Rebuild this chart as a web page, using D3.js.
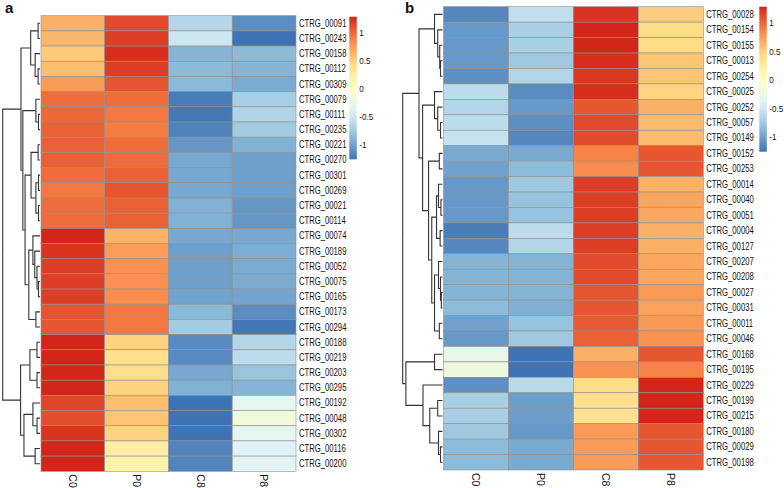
<!DOCTYPE html>
<html>
<head>
<meta charset="utf-8">
<title>Heatmaps</title>
<script src="https://d3js.org/d3.v7.min.js"></script>
<style>
  body { margin: 0; background: #fff; }
  text { font-family: "Liberation Sans", Arial, sans-serif; fill: #111; }
</style>
</head>
<body>
<div id="chart"></div>
<script>
// columns (same for both panels)
const samples = ["C0", "P0", "C8", "P8"];

// panel a
const genesA = ["CTRG_00091","CTRG_00243","CTRG_00158","CTRG_00112","CTRG_00309",
  "CTRG_00079","CTRG_00111","CTRG_00235","CTRG_00221","CTRG_00270","CTRG_00301",
  "CTRG_00269","CTRG_00021","CTRG_00114","CTRG_00074","CTRG_00189","CTRG_00052",
  "CTRG_00075","CTRG_00165","CTRG_00173","CTRG_00294","CTRG_00188","CTRG_00219",
  "CTRG_00203","CTRG_00295","CTRG_00192","CTRG_00048","CTRG_00302","CTRG_00116","CTRG_00200"];
const valuesA = [
  [0.65, 1.12, -0.65, -1.12], [0.62, 1.17, -0.52, -1.27], [0.52, 1.24, -0.90, -0.86],
  [0.58, 1.18, -0.86, -0.90], [0.75, 1.07, -0.87, -0.95], [0.97, 0.97, -1.22, -0.72],
  [0.99, 0.92, -1.24, -0.67], [1.02, 0.90, -1.18, -0.74], [1.02, 0.97, -1.07, -0.92],
  [1.02, 0.97, -0.97, -1.02], [0.97, 1.02, -0.97, -1.02], [0.92, 1.07, -0.97, -1.02],
  [0.97, 1.02, -0.92, -1.07], [0.97, 1.02, -0.92, -1.07], [1.30, 0.64, -0.97, -0.97],
  [1.22, 0.74, -1.02, -0.94], [1.17, 0.80, -1.02, -0.95], [1.17, 0.80, -1.02, -0.95],
  [1.17, 0.82, -1.00, -0.99], [1.07, 0.92, -0.87, -1.12], [1.07, 0.92, -0.74, -1.25],
  [1.32, 0.48, -1.14, -0.66], [1.37, 0.38, -1.14, -0.61], [1.37, 0.40, -0.97, -0.80],
  [1.34, 0.48, -0.92, -0.90], [1.14, 0.58, -1.37, -0.35], [1.10, 0.55, -1.44, -0.21],
  [1.22, 0.48, -1.35, -0.35], [1.37, 0.22, -1.17, -0.42], [1.40, 0.16, -1.17, -0.39]
];
// dendrogram a: [height, left, right], leaves are row indices
const treeA = [1,
  [0.51,
    [0.25, [0.05, 0, 1], [0.13, 2, [0.05, 3, 4]]],
    [0.46,
      [0.11, 5, [0.04, 6, 7]],
      [0.40,
        [0.24, [0.05, 8, 9], [0.11, [0.04, 10, 11], [0.04, 12, 13]]],
        [0.30, [0.19, 14, [0.14, 15, [0.08, 16, [0.04, 17, 18]]]], [0.11, 19, 20]]]]],
  [0.52,
    [0.27, [0.08, 21, 22], [0.08, 23, 24]],
    [0.43, [0.19, 25, [0.08, 26, 27]], [0.13, 28, 29]]]];

// panel b
const genesB = ["CTRG_00028","CTRG_00154","CTRG_00155","CTRG_00013","CTRG_00254",
  "CTRG_00025","CTRG_00252","CTRG_00057","CTRG_00149","CTRG_00152","CTRG_00253",
  "CTRG_00014","CTRG_00040","CTRG_00051","CTRG_00004","CTRG_00127","CTRG_00207",
  "CTRG_00208","CTRG_00027","CTRG_00031","CTRG_00011","CTRG_00046","CTRG_00168",
  "CTRG_00195","CTRG_00229","CTRG_00199","CTRG_00215","CTRG_00180","CTRG_00029","CTRG_00198"];
const valuesB = [
  [-1.15, -0.58, 1.22, 0.51], [-1.05, -0.70, 1.32, 0.43], [-1.05, -0.70, 1.32, 0.43],
  [-1.05, -0.75, 1.25, 0.55], [-1.10, -0.65, 1.20, 0.55], [-0.60, -1.12, 1.25, 0.47],
  [-0.65, -1.05, 1.07, 0.65], [-0.60, -1.10, 1.12, 0.60], [-0.55, -1.15, 1.12, 0.60],
  [-0.95, -0.95, 0.87, 1.07], [-1.00, -0.85, 0.82, 1.07], [-1.05, -0.75, 1.17, 0.65],
  [-1.05, -0.80, 1.17, 0.70], [-1.05, -0.80, 1.17, 0.70], [-1.20, -0.60, 1.17, 0.65],
  [-1.15, -0.65, 1.17, 0.65], [-0.90, -0.90, 1.12, 0.70], [-0.90, -0.90, 1.12, 0.70],
  [-0.90, -0.90, 1.07, 0.75], [-0.85, -0.92, 1.07, 0.72], [-1.00, -0.80, 1.05, 0.77],
  [-1.05, -0.75, 1.02, 0.80], [-0.30, -1.40, 0.65, 1.07], [-0.22, -1.45, 0.80, 0.87],
  [-1.10, -0.62, 0.42, 1.32], [-0.70, -1.02, 0.40, 1.34], [-0.70, -1.02, 0.38, 1.36],
  [-0.75, -1.05, 0.75, 1.07], [-0.85, -0.95, 0.75, 1.07], [-0.85, -0.95, 0.75, 1.07]
];
const treeB = [1,
  [0.59,
    [0.20, 0, [0.12, 1, [0.07, 2, [0.05, 3, 4]]]],
    [0.50,
      [0.20, 5, [0.12, 6, [0.05, 7, 8]]],
      [0.35,
        [0.08, 9, 10],
        [0.27,
          [0.15, [0.10, 11, [0.04, 12, 13]], [0.06, 14, 15]],
          [0.20, [0.10, 16, [0.05, 17, [0.03, 18, 19]]], [0.08, 20, 21]]]]]],
  [0.92,
    [0.20, 22, 23],
    [0.49, 24, [0.32, [0.12, 25, 26], [0.10, 27, [0.05, 28, 29]]]]]];

// legend ticks
const legendTicks = [1, 0.5, 0, -0.5, -1];
// rev(RdYlBu, 7), pushed a little towards the saturated print colours
const palette = ["#4073B3", "#8FBEDB", "#E0F3F8", "#FFFFBF", "#FEDC88", "#F98648", "#D3261A"];

const W = 784, H = 488;
const svg = d3.select("#chart").append("svg")
  .attr("width", W).attr("height", H);

function drawPanel(cfg) {
  const g = svg.append("g");

  const color = d3.scaleLinear()
    .domain(d3.range(7).map(i => cfg.vmin + i * (cfg.vmax - cfg.vmin) / 6))
    .range(palette)
    .interpolate(d3.interpolateRgb)
    .clamp(true);

  const x = d3.scaleBand().domain(samples).range([cfg.x0, cfg.x1]);
  const y = d3.scaleBand().domain(d3.range(cfg.genes.length)).range([cfg.y0, cfg.y1]);

  // cells
  const cells = [];
  cfg.values.forEach((row, i) => row.forEach((v, j) => cells.push({i, j, v})));
  g.selectAll("rect.cell").data(cells).enter().append("rect")
    .attr("class", "cell")
    .attr("x", d => x(samples[d.j]))
    .attr("y", d => y(d.i))
    .attr("width", x.bandwidth())
    .attr("height", y.bandwidth())
    .attr("fill", d => color(d.v))
    .attr("stroke", "#8f8f8f")
    .attr("stroke-width", 0.6);

  // row labels, squeezed horizontally like the narrow print font
  g.selectAll("text.row").data(cfg.genes).enter().append("text")
    .attr("class", "row")
    .attr("transform", (d, i) => `translate(${cfg.x1 + 3},${y(i) + y.bandwidth() / 2}) scale(0.77,1)`)
    .attr("dy", "0.35em")
    .attr("font-size", "10px")
    .text(d => d);

  // column labels (rotated, reading downward)
  g.selectAll("text.col").data(samples).enter().append("text")
    .attr("class", "col")
    .attr("transform", d => `translate(${x(d) + x.bandwidth() / 2},${cfg.y1 + 3}) rotate(90)`)
    .attr("dy", "0.35em")
    .attr("font-size", "10.5px")
    .text(d => d);

  // dendrogram
  const root = d3.hierarchy(cfg.tree, d => Array.isArray(d) ? d.slice(1) : null);
  const hx = d3.scaleLinear().domain([0, 1]).range([cfg.x0 - 1, cfg.dx]);
  root.eachAfter(n => {
    if (n.children) {
      n.px = hx(n.data[0]);
      n.py = (n.children[0].py + n.children[n.children.length - 1].py) / 2;
    } else {
      n.px = hx(0);
      n.py = y(n.data) + y.bandwidth() / 2;
    }
  });
  g.selectAll("path.link").data(root.links()).enter().append("path")
    .attr("class", "link")
    .attr("fill", "none")
    .attr("stroke", "#333")
    .attr("stroke-width", 1.1)
    .attr("d", l => `M${l.source.px},${l.source.py}V${l.target.py}H${l.target.px}`);

  // colour legend
  const ly = d3.scaleLinear().domain([cfg.vmin, cfg.vmax]).range([cfg.ly1, cfg.ly0]);
  const gradId = "grad" + cfg.name;
  const grad = svg.append("defs").append("linearGradient")
    .attr("id", gradId).attr("x1", 0).attr("y1", 1).attr("x2", 0).attr("y2", 0);
  grad.selectAll("stop").data(d3.range(0, 1.0001, 0.05)).enter().append("stop")
    .attr("offset", t => t)
    .attr("stop-color", t => color(cfg.vmin + t * (cfg.vmax - cfg.vmin)));
  g.append("rect")
    .attr("x", cfg.lx).attr("y", cfg.ly0)
    .attr("width", 7.5).attr("height", cfg.ly1 - cfg.ly0)
    .attr("fill", `url(#${gradId})`);
  g.selectAll("text.tick").data(legendTicks).enter().append("text")
    .attr("class", "tick")
    .attr("transform", d => `translate(${cfg.lx + 10},${ly(d)}) scale(0.85,1)`)
    .attr("dy", "0.35em")
    .attr("font-size", "9.5px")
    .text(d => d);

  // panel letter
  g.append("text")
    .attr("x", cfg.letterX).attr("y", 13)
    .attr("font-size", "15px").attr("font-weight", "bold")
    .text(cfg.name);
}

drawPanel({
  name: "a", genes: genesA, values: valuesA, tree: treeA,
  x0: 41, x1: 296, y0: 15.7, y1: 471.3, dx: 2.7,
  vmin: -1.27, vmax: 1.28, lx: 349.3, ly0: 16.7, ly1: 159.3, letterX: 5
});
drawPanel({
  name: "b", genes: genesB, values: valuesB, tree: treeB,
  x0: 443.5, x1: 703.3, y0: 6.7, y1: 470, dx: 402.7,
  vmin: -1.26, vmax: 1.28, lx: 759.3, ly0: 6.7, ly1: 151.7, letterX: 405
});
</script>
</body>
</html>
